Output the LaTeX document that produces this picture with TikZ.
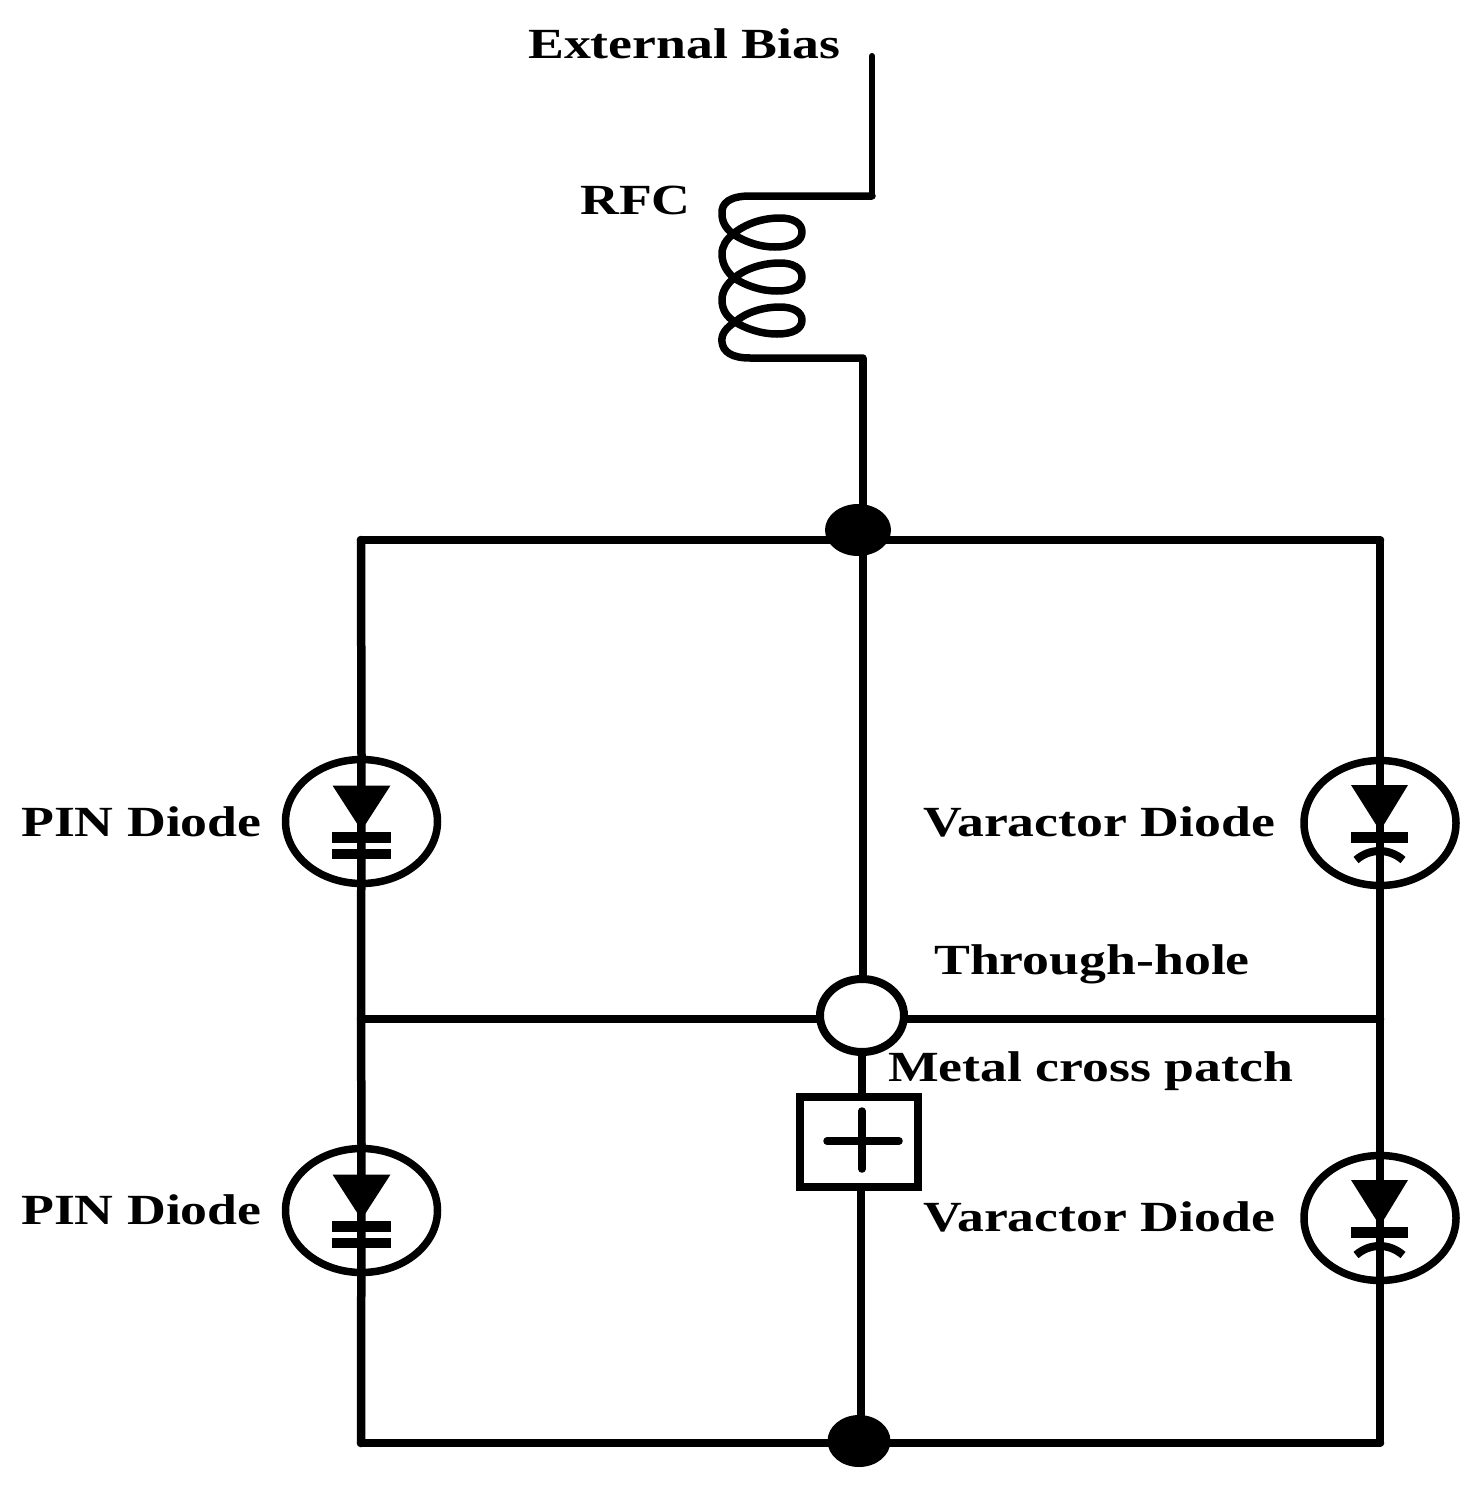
\documentclass[tikz,border=0pt]{standalone}
\usepackage{fontspec}
\setmainfont[FakeStretch=1.25,BoldFont={Liberation Serif Bold}]{Liberation Serif}
\usetikzlibrary{shapes.geometric}
\tikzset{
  wire/.style={line width=8.5pt,line cap=round,line join=miter},
  stem/.style={line width=7.5pt},
  thin wire/.style={line width=6pt,line join=round,line cap=round},
  coil/.style={line width=7.5pt,line join=round,line cap=round},
  body/.style={draw,ellipse,line width=7.5pt,minimum width=152pt,minimum height=125pt,inner sep=0pt},
  junction/.style={draw=none,fill=black,ellipse,inner sep=0pt},
  lab/.style={anchor=base west,inner sep=0pt,font=\fontsize{43}{43}\selectfont\bfseries},
  pics/pinmark/.style={code={
    \fill (-29,-36) -- (29,-36) -- (0,9) -- cycle;
    \fill (-29.5,10) rectangle (29.5,21);
    \fill (-29.5,27) rectangle (29.5,37);
  }},
  pics/varmark/.style={code={
    \fill (-29,-38) -- (28,-38) -- (0,8) -- cycle;
    \fill (-29,9) rectangle (28,20);
    \draw[line width=8pt] (-24,37) .. controls (-10,25) and (9,25) .. (23,37);
  }},
}
\begin{document}
\begin{tikzpicture}[x=1pt,y=-1pt]
\useasboundingbox (0,0) rectangle (1483,1491);
\coordinate (bias) at (872,56);
\coordinate (coilR) at (872,196);
\coordinate (coilEnd) at (863,358);
\coordinate (tl) at (361,540);
\coordinate (tr) at (1380,540);
\coordinate (ml) at (361,1019);
\coordinate (mr) at (1380,1019);
\coordinate (bl) at (361,1443);
\coordinate (br) at (1380,1443);
\coordinate (tc) at (863,540);
\coordinate (bc) at (861,1443);

% frame and wires
\draw[wire] (tl) -- (tr);
\draw[wire] (bl) -- (br);
\draw[wire] (ml) -- (mr);
\draw[thin wire] (bias) -- (coilR);
\draw[stem] (coilEnd) -- (tc);
\draw[stem] (tc) -- (863,1000);
\draw[stem] (862,1050) -- (862,1100);
\draw[stem] (861,1185) -- (bc);

% inductor
\draw[coil] (coilR) -- (750,196)
  .. controls (730,196) and (721,203) .. (722,214)
  .. controls (722,224) and (728,230) .. (733,234)
  .. controls (745,242) and (760,247) .. (775,247)
  .. controls (793,247) and (802,241) .. (802,232)
  .. controls (802,223) and (793,218) .. (780,218)
  .. controls (762,218) and (745,224) .. (733,234)
  .. controls (726,240) and (722,246) .. (722,254)
  .. controls (722,264) and (727,272) .. (734,278)
  .. controls (745,285) and (760,291) .. (777,291)
  .. controls (793,291) and (802,286) .. (802,277)
  .. controls (802,268) and (793,263) .. (780,263)
  .. controls (762,263) and (745,269) .. (734,278)
  .. controls (726,285) and (722,292) .. (722,300)
  .. controls (722,310) and (727,317) .. (735,322)
  .. controls (745,328) and (760,334) .. (777,334)
  .. controls (793,334) and (802,329) .. (802,320)
  .. controls (802,312) and (793,307) .. (780,307)
  .. controls (762,307) and (745,313) .. (735,322)
  .. controls (726,328) and (721,334) .. (722,342)
  .. controls (723,352) and (732,358) .. (750,358)
  -- (coilEnd);

% junctions
\node[junction,minimum width=66pt,minimum height=52pt] (jt) at (858,530) {};
\node[junction,minimum width=63pt,minimum height=52pt] (jb) at (859,1441) {};

% through-hole and cross patch
\node[draw,ellipse,fill=white,line width=8pt,minimum width=84pt,minimum height=73pt,inner sep=0pt] (hole) at (862,1015.5) {};
\node[draw,rectangle,fill=white,line width=8pt,minimum width=118pt,minimum height=90pt,inner sep=0pt] (patch) at (859,1142) {};
\draw[stem,line cap=round] (827,1141) -- (899,1141);
\draw[stem,line cap=round] (862,1111) -- (862,1169);

% diodes
\node[body,minimum width=152pt,minimum height=124pt] (d1) at (361.5,821.5) {};
\node[body,minimum width=152pt,minimum height=124pt] (d2) at (361.5,1210.5) {};
\node[body] (d3) at (1380,823) {};
\node[body] (d4) at (1380,1218) {};
\draw[wire,line cap=round] (tl) -- (d1.north);
\draw[wire,line cap=butt] (d1.north) -- (ml);
\draw[wire,line cap=butt] (ml) -- (d2.north);
\draw[wire,line cap=round] (d2.north) -- (bl);
\draw[stem,line cap=round] (tr) -- (d3.north);
\draw[stem] (d3.north) -- (mr);
\draw[stem] (mr) -- (d4.north);
\draw[stem,line cap=round] (d4.north) -- (br);
\pic at (d1) {pinmark};
\pic at (d2) {pinmark};
\pic at (d3) {varmark};
\pic at (d4) {varmark};

% labels
\node[lab] (tbias) at (528,58) {External Bias};
\node[lab] (trfc) at (580,214) {RFC};
\node[lab] (tp1) at (21,836) {PIN Diode};
\node[lab] (tp2) at (21,1224) {PIN Diode};
\node[lab] (tv1) at (923,836) {Varactor Diode};
\node[lab] (tv2) at (923,1231) {Varactor Diode};
\node[lab] (tth) at (934,974) {Through-hole};
\node[lab] (tmc) at (888,1081) {Metal cross patch};
\end{tikzpicture}
\end{document}
